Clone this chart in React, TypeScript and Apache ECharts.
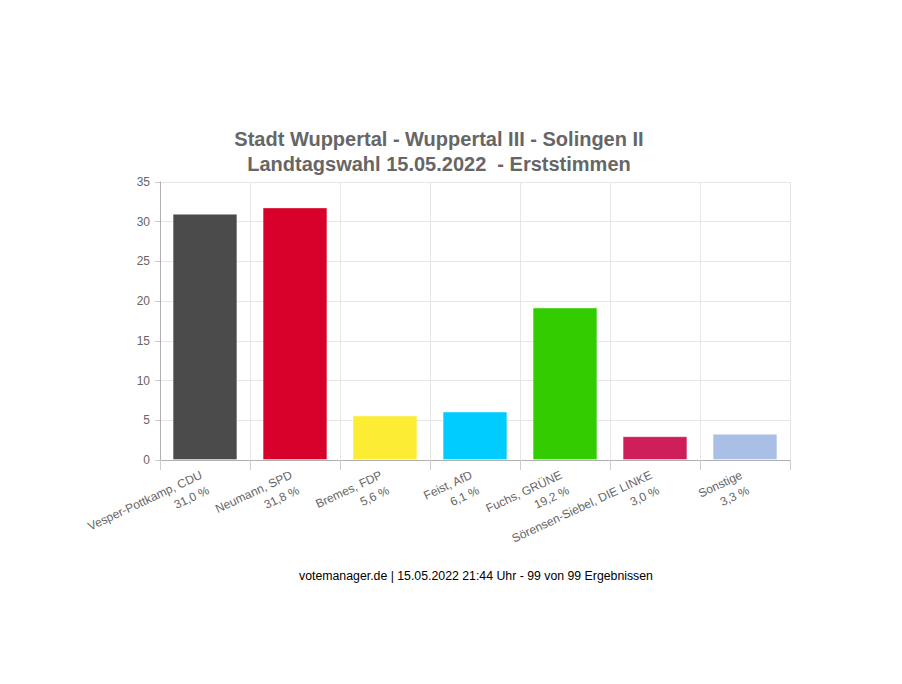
import React, { useEffect, useRef } from "react";
import * as echarts from "echarts";

const candidates = [
  "Vesper-Pottkamp, CDU",
  "Neumann, SPD",
  "Bremes, FDP",
  "Feist, AfD",
  "Fuchs, GRÜNE",
  "Sörensen-Siebel, DIE LINKE",
  "Sonstige",
];
const percentages = [31.0, 31.8, 5.6, 6.1, 19.2, 3.0, 3.3];
const partyColors = ["#4b4b4b", "#d6002a", "#fcec33", "#00ccff", "#33cc00", "#cf1f5a", "#a9bfe6"];
const yTicks = [0, 5, 10, 15, 20, 25, 30, 35];

const titleLines = ["Stadt Wuppertal - Wuppertal III - Solingen II", "Landtagswahl 15.05.2022  - Erststimmen"];
const footer = "votemanager.de | 15.05.2022 21:44 Uhr - 99 von 99 Ergebnissen";

const fmt = (v: number) => v.toFixed(1).replace(".", ",") + " %";

export default function App() {
  const ref = useRef<HTMLDivElement>(null);
  useEffect(() => {
    if (!ref.current) return;
    const chart = echarts.init(ref.current, undefined, { renderer: "svg" });
    const labels = candidates.map((c, i) => c + "\n" + fmt(percentages[i]));
    chart.setOption({
      animation: false,
      backgroundColor: "#ffffff",
      textStyle: { fontFamily: "Liberation Sans, Arial, sans-serif" },
      title: [
        {
          text: titleLines.join("\n"),
          left: 426,
          top: 113,
          textAlign: "center",
          textStyle: {
            fontFamily: "Liberation Sans, Arial, sans-serif",
            fontSize: 20,
            fontWeight: "bold",
            color: "#666666",
            lineHeight: 25,
          },
        },
        {
          text: footer,
          left: 463,
          top: 557,
          textAlign: "center",
          textStyle: {
            fontFamily: "Liberation Sans, Arial, sans-serif",
            fontSize: 12.3,
            fontWeight: "normal",
            color: "#000000",
          },
        },
      ],
      grid: { left: 152, right: 104, top: 174, bottom: 216, containLabel: false },
      xAxis: {
        type: "category",
        data: labels,
        boundaryGap: true,
        axisLine: { show: true, lineStyle: { color: "#b0b0b0" } },
        axisTick: { show: true, length: 10, alignWithLabel: false, lineStyle: { color: "#cccccc" } },
        splitLine: { show: true, lineStyle: { color: "#e6e6e6" } },
        axisLabel: {
          interval: 0,
          rotate: 25,
          margin: 22,
          color: "#666666",
          fontSize: 12,
          lineHeight: 17,
        },
      },
      yAxis: {
        type: "value",
        min: 0,
        max: 35,
        interval: 5,
        axisLine: { show: true, lineStyle: { color: "#b0b0b0" } },
        axisTick: { show: true, length: 5, lineStyle: { color: "#cccccc" } },
        splitLine: { show: true, lineStyle: { color: "#e6e6e6" } },
        axisLabel: {
          color: "#666666",
          fontSize: 12,
          margin: 10,
          formatter: (v: number) => (yTicks.includes(v) ? String(v) : ""),
        },
      },
      series: [
        {
          type: "bar",
          barWidth: "72%",
          data: percentages.map((v, i) => ({ value: v, itemStyle: { color: partyColors[i] } })),
          itemStyle: { borderColor: "rgba(255,255,255,0.4)", borderWidth: 1 },
        },
      ],
    });
    return () => chart.dispose();
  }, []);
  return <div ref={ref} style={{ width: 886, height: 668 }} />;
}
